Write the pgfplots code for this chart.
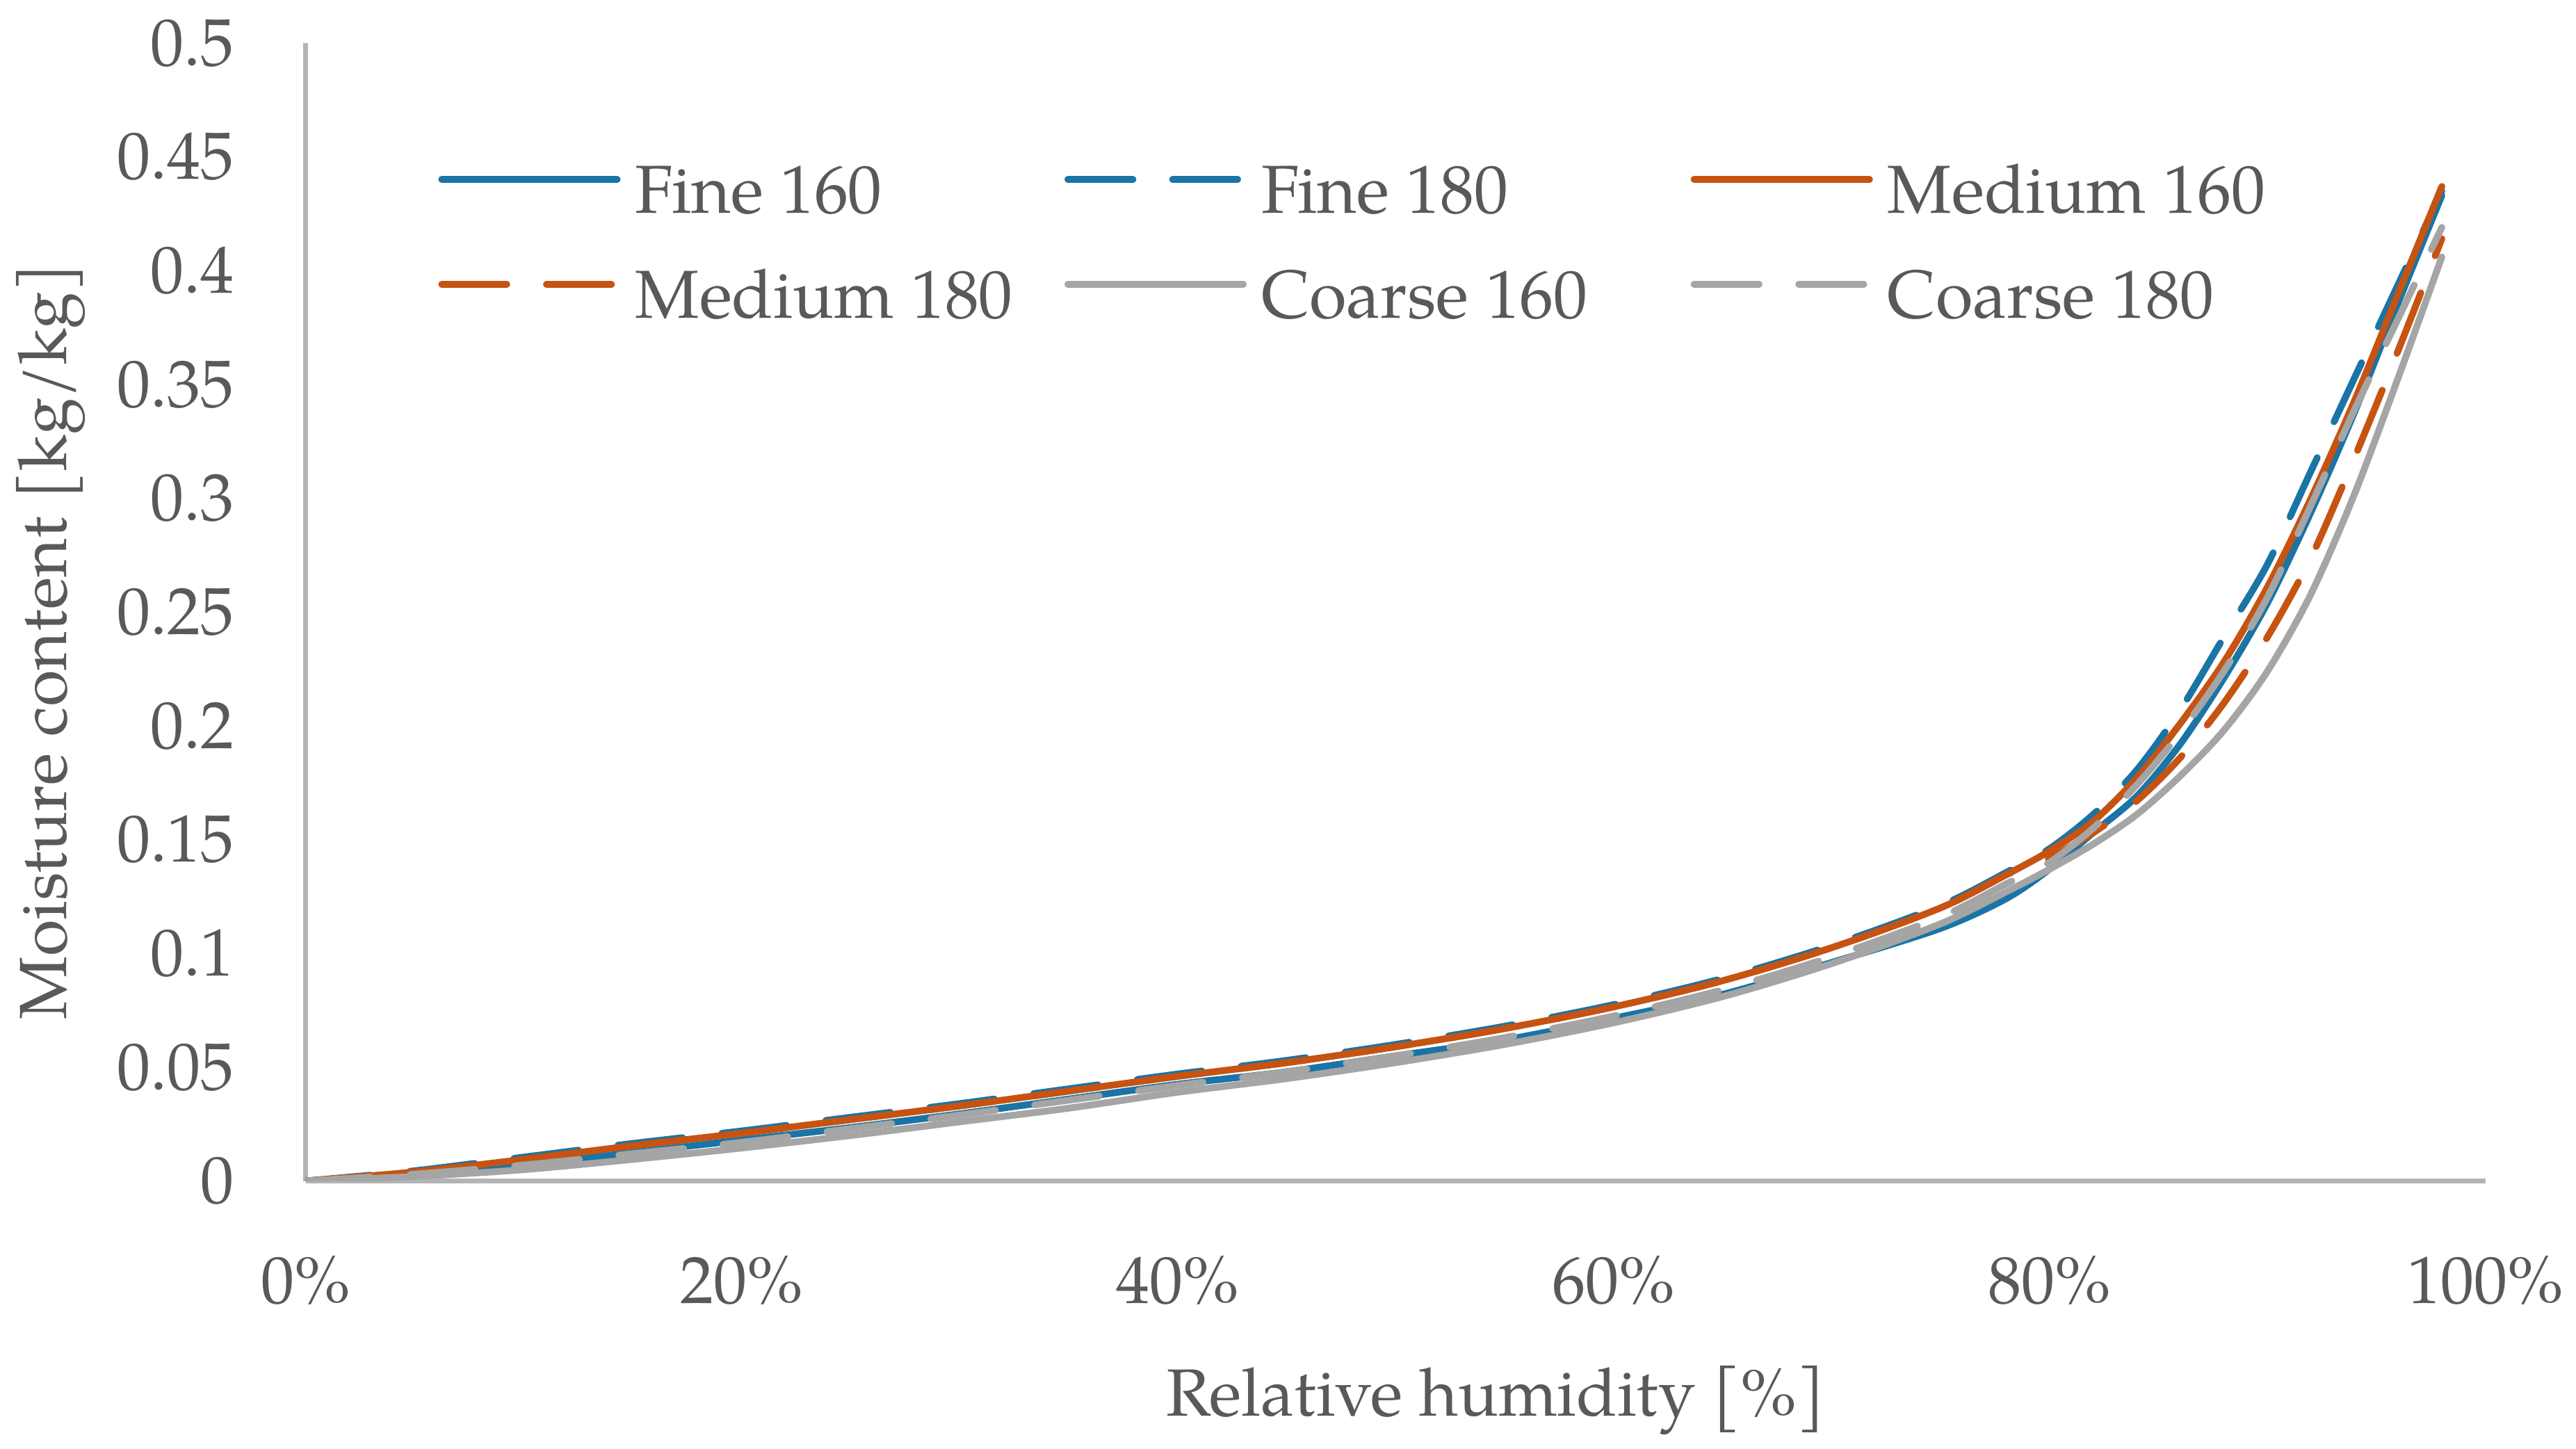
\documentclass[border=0pt]{standalone}
\usepackage{fontspec}
\setmainfont{texgyrepagella}[Extension=.otf, UprightFont=*-regular, BoldFont=*-bold, ItalicFont=*-italic, BoldItalicFont=*-bolditalic]
\usepackage{pgfplots}
\usepackage{pgfplotstable}
\pgfplotsset{compat=1.18}

\definecolor{fineblue}{HTML}{1A74A6}
\definecolor{medorange}{HTML}{C65312}
\definecolor{coarsegray}{HTML}{A5A5A5}
\definecolor{axisgray}{HTML}{B4B4B4}
\definecolor{textgray}{HTML}{595959}

% moisture content [kg/kg] against relative humidity [%]
\pgfplotstableread{
rh   f160   f180   m160   m180   c160   c180
0    0      0      0      0      0      0
5    0.003  0.0045 0.004  0.004  0.002  0.003
10   0.007  0.0105 0.0095 0.0095 0.005  0.007
15   0.0125 0.0165 0.0155 0.0155 0.0095 0.012
20   0.018  0.022  0.021  0.021  0.0145 0.017
25   0.0235 0.028  0.027  0.027  0.020  0.023
30   0.0295 0.034  0.033  0.033  0.026  0.029
35   0.036  0.0405 0.0395 0.0395 0.032  0.0355
40   0.0425 0.047  0.046  0.046  0.039  0.042
45   0.048  0.053  0.052  0.052  0.045  0.048
50   0.055  0.060  0.059  0.059  0.052  0.055
55   0.062  0.068  0.067  0.067  0.060  0.063
60   0.0715 0.0775 0.0765 0.0765 0.0695 0.0725
65   0.082  0.089  0.088  0.088  0.081  0.084
70   0.096  0.1035 0.1025 0.1025 0.0955 0.0985
75   0.111  0.121  0.120  0.120  0.113  0.116
78   0.124  0.1355 0.1345 0.1345 0.127  0.1305
80   0.137  0.146  0.145  0.142  0.137  0.140
82   0.153  0.161  0.158  0.153  0.148  0.155
84   0.169  0.1805 0.177  0.167  0.161  0.174
86   0.192  0.207  0.201  0.186  0.178  0.197
88   0.221  0.239  0.228  0.210  0.198  0.224
90   0.254  0.271  0.261  0.239  0.224  0.2565
92   0.294  0.312  0.300  0.274  0.258  0.297
94   0.338  0.353  0.343  0.318  0.302  0.339
96   0.386  0.394  0.390  0.365  0.353  0.379
98   0.433  0.435  0.437  0.414  0.406  0.419
}\sorption

\begin{document}
\begin{tikzpicture}
\begin{axis}[
  name=ax,
  scale only axis,
  width=385pt, height=201pt,
  xmin=0, xmax=100, ymin=0, ymax=0.5,
  axis lines*=left,
  axis line style={axisgray, line width=0.9pt},
  separate axis lines,
  x axis line style={-}, y axis line style={-},
  major tick length=0pt,
  xtick={0,20,40,60,80,100},
  xticklabels={0\%,20\%,40\%,60\%,80\%,100\%},
  ytick={0,0.05,0.1,0.15,0.2,0.25,0.3,0.35,0.4,0.45,0.5},
  yticklabels={0,0.05,0.1,0.15,0.2,0.25,0.3,0.35,0.4,0.45,0.5},
  ticklabel style={font=\fontsize{11.8}{14}\selectfont, text=textgray},
  yticklabel style={anchor=east, inner sep=0pt, xshift=-12.5pt},
  xticklabel style={anchor=north, inner sep=0pt, yshift=-13pt},
  xlabel={Relative humidity [\%]},
  ylabel={Moisture content [kg/kg]},
  label style={font=\fontsize{11.8}{14}\selectfont, text=textgray},
  xlabel style={at={(axis description cs:0.546,-0.2065)}, anchor=base},
  ylabel style={at={(axis description cs:-0.117,0.474)}, anchor=center},
  legend columns=3,
  legend cell align=left,
  legend style={draw=none, fill=none, at={(rel axis cs:0.0525,0.906)}, anchor=north west,
    font=\fontsize{12}{14}\selectfont, text=textgray,
    column sep=0pt, row sep=6.5pt,
    nodes={inner sep=0pt, text height=9pt, text depth=3pt}},
  legend image code/.code={\draw[#1] (0pt,3pt) -- (31pt,3pt);},
  every axis plot/.append style={line width=1.2pt, line cap=round, smooth},
  fdash/.style={dash pattern=on 11.5pt off 7pt},
]
\addplot[fineblue] table[x=rh, y=f160] {\sorption};
\addlegendentry{\hspace{2.6pt}\makebox[75.8pt][l]{Fine 160}}
\addplot[fineblue, fdash] table[x=rh, y=f180] {\sorption};
\addlegendentry{\hspace{2.6pt}\makebox[75.8pt][l]{Fine 180}}
\addplot[medorange] table[x=rh, y=m160] {\sorption};
\addlegendentry{\hspace{2.6pt}\makebox[75.8pt][l]{Medium 160}}
\addplot[medorange, fdash] table[x=rh, y=m180] {\sorption};
\addlegendentry{\hspace{2.6pt}\makebox[75.8pt][l]{Medium 180}}
\addplot[coarsegray] table[x=rh, y=c160] {\sorption};
\addlegendentry{\hspace{2.6pt}\makebox[75.8pt][l]{Coarse 160}}
\addplot[coarsegray, fdash] table[x=rh, y=c180] {\sorption};
\addlegendentry{\hspace{2.6pt}\makebox[75.8pt][l]{Coarse 180}}
\end{axis}
\pgfresetboundingbox
\path ([shift={(-54pt,-47.3pt)}]ax.south west) rectangle ([shift={(16pt,7.6pt)}]ax.north east);
\end{tikzpicture}
\end{document}
